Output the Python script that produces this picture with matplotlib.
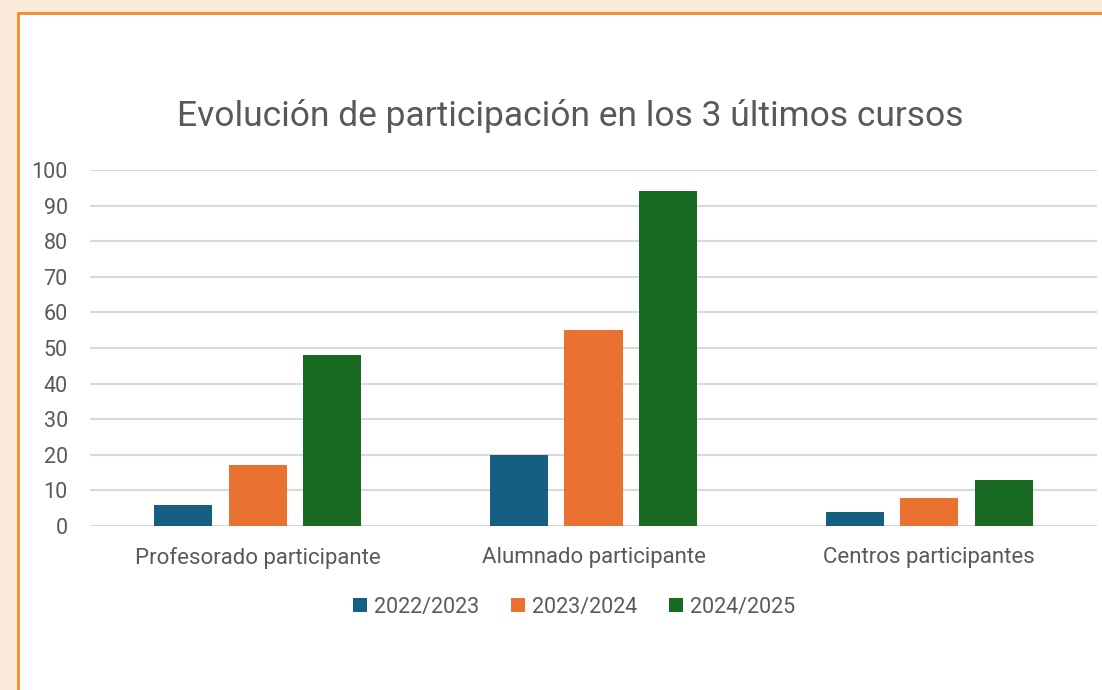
import numpy as np
import matplotlib.pyplot as plt
from matplotlib.patches import Rectangle

# Data
categories = ['Profesorado participante', 'Alumnado participante', 'Centros participantes']
series_names = ['2022/2023', '2023/2024', '2024/2025']
values_2223 = [6, 20, 4]
values_2324 = [17, 55, 8]
values_2425 = [48, 94, 13]
yticks = [0, 10, 20, 30, 40, 50, 60, 70, 80, 90, 100]

colors = ['#156082', '#E97132', '#196B24']
text_gray = '#595959'

plt.rcParams['font.family'] = ['Roboto', 'DejaVu Sans']

fig = plt.figure(figsize=(11.02, 6.9), dpi=100)
fig.patch.set_facecolor('#FAEBDB')

# white card with orange border
card = Rectangle((18 / 1102, -0.05), 1.1, 1 - 13 / 690 + 0.05, transform=fig.transFigure,
                 facecolor='white', edgecolor='#F58A1F', linewidth=2, zorder=-5)
fig.patches.append(card)

ax = fig.add_axes([90 / 1102, 1 - 526 / 690, 1007 / 1102, 356 / 690])
ax.set_facecolor('none')

x = np.arange(len(categories))
width = 0.173
step = 0.222
for i, vals in enumerate([values_2223, values_2324, values_2425]):
    ax.bar(x + (i - 1) * step, vals, width, color=colors[i], label=series_names[i], zorder=3)

ax.set_xlim(-0.5, 2.5)
ax.set_ylim(0, 100)
ax.set_yticks(yticks)
ax.yaxis.grid(True, color='#D9D9D9', linewidth=1.5, zorder=0)
ax.set_axisbelow(True)
for s in ax.spines.values():
    s.set_visible(False)
ax.tick_params(axis='y', length=0, pad=16, labelsize=15.5, labelcolor=text_gray)
ax.tick_params(axis='x', length=0, pad=15, labelsize=16, labelcolor=text_gray)
ax.set_xticks(x)
ax.set_xticklabels(categories)

fig.text(570 / 1102, 1 - 116 / 690, 'Evolución de participación en los 3 últimos cursos',
         ha='center', va='center', fontsize=25.5, color=text_gray)

leg = fig.legend(loc='center', bbox_to_anchor=(574 / 1102, 1 - 607 / 690), ncol=3,
                 frameon=False, fontsize=15.5, handlelength=0.65, handleheight=0.65,
                 handletextpad=0.3, columnspacing=1.5)
for t in leg.get_texts():
    t.set_color(text_gray)

fig.savefig('out.png', dpi=100, facecolor=fig.get_facecolor())
